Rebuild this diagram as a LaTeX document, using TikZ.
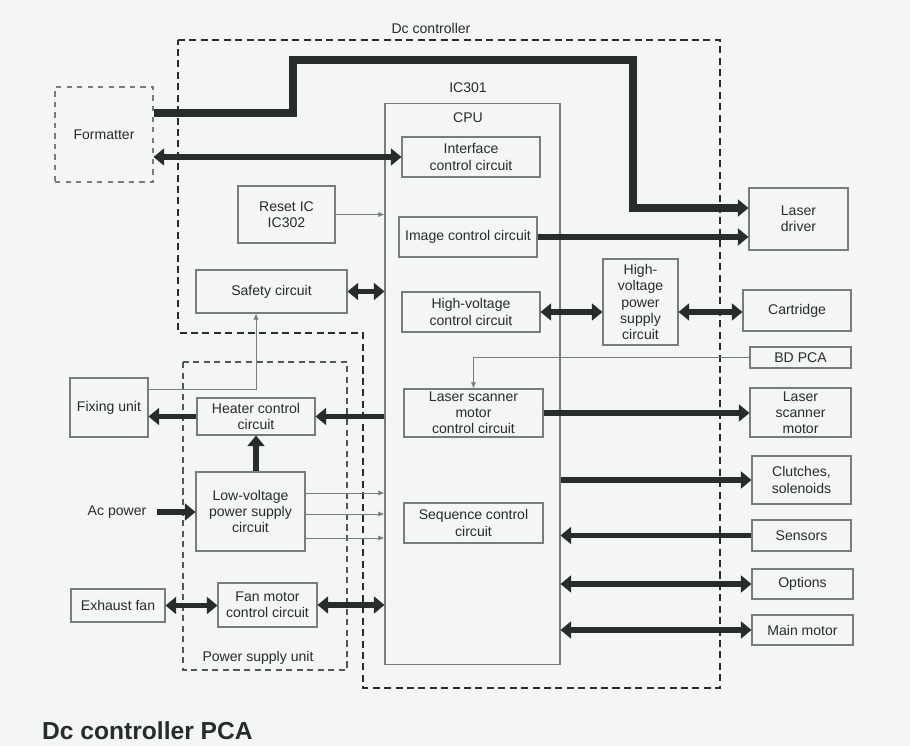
\documentclass[tikz,border=0pt]{standalone}
\usepackage{fontspec}
\setmainfont{Liberation Sans}
\usepackage{tikz}
\usetikzlibrary{arrows.meta,calc}
\definecolor{dcpaper}{RGB}{244,245,245}
\definecolor{dcink}{RGB}{40,44,44}
\definecolor{dcedge}{RGB}{120,124,124}

\tikzset{
  blk/.style={draw=dcedge, line width=0.6pt, align=center, inner sep=1pt,
    text=dcink, font=\fontsize{8}{9.2}\selectfont},
  lbl/.style={text=dcink, font=\fontsize{8}{9.2}\selectfont},
  arr/.style={line width=3pt, draw=dcink, -{Triangle[length=6pt,width=9.5pt]}},
  dbl/.style={line width=3pt, draw=dcink, {Triangle[length=6pt,width=9.5pt]}-{Triangle[length=6pt,width=9.5pt]}},
  bus/.style={line width=4.4pt, draw=dcink, -{Triangle[length=6pt,width=9.5pt]}},
  sig/.style={line width=0.5pt, draw=dcedge, -{Latex[length=3.5pt,width=3pt]}},
  dctrl/.style={dashed, line width=0.7pt, draw=dcink, dash pattern=on 4pt off 2.5pt},
  psu/.style={dashed, line width=0.7pt, draw=dcink!80, dash pattern=on 3.5pt off 2.5pt}
}

\begin{document}
\begin{tikzpicture}[x=0.02cm, y=-0.02cm]
    \fill[dcpaper] (0,0) rectangle (910,746);
    \useasboundingbox (0,0) rectangle (910,746);

    % Outlines
    \draw[dctrl] (178,40) -- (720,40) -- (720,688) -- (363,688) -- (363,333) -- (178,333) -- cycle;
    \node[lbl] (dclbl) at (431,28) {Dc controller};
    \draw[psu] (183,362) rectangle (347,670);
    \node[lbl] (psulbl) at (258,658) {Power supply unit};

    % Formatter
    \node[blk, dashed, minimum width=1.96cm, minimum height=1.9cm] (fmt) at (104,134.5) {Formatter};

    % IC301 and its circuits
    \node[blk, minimum width=3.5cm, minimum height=11.24cm] (cpu) at (472.5,384) {};
    \node[lbl] (iclbl) at (468,88) {IC301};
    \node[lbl] (cpulbl) at (468,118) {CPU};
    \node[blk, minimum width=2.76cm, minimum height=0.8cm] (iface) at (471,157) {Interface\\control circuit};
    \node[blk, minimum width=2.76cm, minimum height=0.8cm] (image) at (468,237) {Image control circuit};
    \node[blk, minimum width=2.76cm, minimum height=0.8cm] (hvctl) at (471,312) {High-voltage\\control circuit};
    \node[blk, minimum width=2.78cm, minimum height=0.96cm] (lsmc) at (473.5,413) {Laser scanner\\motor\\control circuit};
    \node[blk, minimum width=2.78cm, minimum height=0.8cm] (seq) at (473.5,523) {Sequence control\\circuit};

    % Right side units
    \node[blk, minimum width=1.5cm, minimum height=1.72cm] (hvps) at (640.5,302) {High-\\voltage\\power\\supply\\circuit};
    \node[blk, minimum width=1.98cm, minimum height=1.24cm] (ldrv) at (798.5,219) {Laser\\driver};
    \node[blk, minimum width=2.16cm, minimum height=0.82cm] (cart) at (797,310.5) {Cartridge};
    \node[blk, minimum width=2.02cm, minimum height=0.42cm] (bd) at (800.5,357.5) {BD PCA};
    \node[blk, minimum width=2.02cm, minimum height=0.98cm] (lsm) at (800.5,412.5) {Laser\\scanner\\motor};
    \node[blk, minimum width=1.98cm, minimum height=0.96cm] (clu) at (801.5,480) {Clutches,\\solenoids};
    \node[blk, minimum width=1.98cm, minimum height=0.62cm] (sens) at (801.5,535.5) {Sensors};
    \node[blk, minimum width=2.02cm, minimum height=0.6cm] (opt) at (802.5,584) {Options};
    \node[blk, minimum width=2.02cm, minimum height=0.6cm] (mmot) at (802.5,630) {Main motor};

    % Left side units
    \node[blk, minimum width=1.94cm, minimum height=1.14cm] (rst) at (286.5,214.5) {Reset IC\\IC302};
    \node[blk, minimum width=3.02cm, minimum height=0.86cm] (safe) at (271.5,291.5) {Safety circuit};
    \node[blk, minimum width=1.56cm, minimum height=1.18cm] (fix) at (109,407.5) {Fixing unit};
    \node[blk, minimum width=2.36cm, minimum height=0.74cm] (heat) at (256,416.5) {Heater control\\circuit};
    \node[blk, minimum width=2.18cm, minimum height=1.58cm] (lv) at (250.5,511.5) {Low-voltage\\power supply\\circuit};
    \node[lbl, inner sep=6pt] (ac) at (117,512) {Ac power};
    \node[blk, minimum width=1.88cm, minimum height=0.66cm] (exh) at (118,605.5) {Exhaust fan};
    \node[blk, minimum width=1.98cm, minimum height=0.88cm] (fan) at (267.5,605) {Fan motor\\control circuit};

    % Connections
    \draw[bus] (fmt.east |- 0,113) -| (293,60) -| (633,208) -- (ldrv.west |- 0,208);
    \draw[dbl] (iface.west -| fmt.east) -- (iface.west);
    \draw[arr] (image.east) -- (image -| ldrv.west);
    \draw[dbl] (hvctl.east) -- (hvctl -| hvps.west);
    \draw[dbl] (hvctl -| hvps.east) -- (hvctl -| cart.west);
    \draw[sig] (rst.east) -- (rst -| cpu.west);
    \draw[dbl] (safe.east) -- (safe -| cpu.west);
    \draw[sig] (fix.east |- 0,389) -| (heat.north |- safe.south);
    \draw[arr] (heat.west) -- (heat -| fix.east);
    \draw[arr] (heat -| cpu.west) -- (heat.east);
    \draw[arr] (heat.south |- lv.north) -- (heat.south);
    \draw[arr] (ac.east) -- (ac.east -| lv.west);
    \foreach \yy in {493,514,538}
        \draw[sig] (lv.east |- 0,\yy) -- (cpu.west |- 0,\yy);
    \draw[dbl] (exh.east) -- (exh -| fan.west);
    \draw[dbl] (fan.east) -- (fan -| cpu.west);
    \draw[sig] (bd.west) -| (lsmc.north);
    \draw[arr] (lsmc.east) -- (lsmc -| lsm.west);
    \draw[arr] (cpu.east |- clu) -- (clu.west);
    \draw[arr] (sens.west) -- (sens -| cpu.east);
    \draw[dbl] (cpu.east |- opt) -- (opt.west);
    \draw[dbl] (cpu.east |- mmot) -- (mmot.west);

    % Caption
    \node[anchor=west, text=dcink, font=\fontsize{14}{16}\selectfont\bfseries] (title) at (36,731) {Dc controller PCA};
\end{tikzpicture}
\end{document}
